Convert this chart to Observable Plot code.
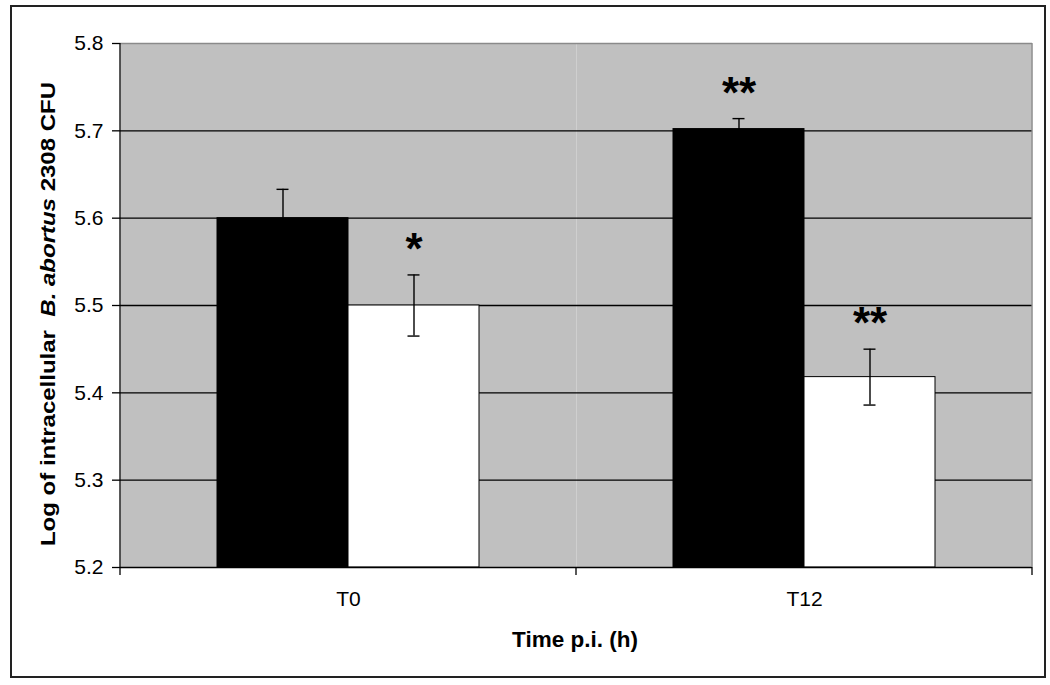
<!DOCTYPE html>
<html>
<head>
<meta charset="utf-8">
<script src="https://cdn.jsdelivr.net/npm/d3@7"></script>
<script src="https://cdn.jsdelivr.net/npm/@observablehq/plot@0.6"></script>
<style>
  html, body { margin: 0; padding: 0; background: #fff; }
  body { width: 1050px; height: 685px; position: relative; overflow: hidden; font-family: "Liberation Sans", Arial, sans-serif; }
  #border { position: absolute; left: 10px; top: 5px; width: 1036px; height: 673px; box-sizing: border-box; border: 2px solid #222; }
  #chart { position: absolute; left: 0; top: 0; }
  .ytitle { position: absolute; width: 600px; left: -252px; top: 301px; height: 26px; line-height: 26px; text-align: center;
            transform: rotate(-90deg) scaleY(0.82); transform-origin: 300px 13px; font-weight: bold; font-size: 24px; color: #000; white-space: pre; }
  .xtitle { position: absolute; width: 400px; left: 375px; top: 628px; height: 24px; line-height: 24px; text-align: center;
            font-weight: bold; font-size: 22.5px; color: #000; }
</style>
</head>
<body>
<div id="border"></div>
<div id="chart"></div>
<div class="ytitle">Log of intracellular  <i>B. abortus</i> 2308 CFU</div>
<div class="xtitle">Time p.i. (h)</div>
<script>
// ---- data ----
const times = ["T0", "T12"];
const series = ["Series 1", "Series 2"];
const timeCol   = ["T0", "T0", "T12", "T12"];
const seriesCol = ["Series 1", "Series 2", "Series 1", "Series 2"];
const meanCol   = [5.600, 5.500, 5.702, 5.418];
const errCol    = [0.033, 0.035, 0.012, 0.032];
const starCol   = ["", "*", "**", "**"];
const yDomain = [5.2, 5.8];
const yTicks = [5.2, 5.3, 5.4, 5.5, 5.6, 5.7, 5.8];
const gridTicks = [5.3, 5.4, 5.5, 5.6, 5.7];
const seriesColors = ["#000000", "#ffffff"];

const data = timeCol.map((t, i) => ({
  time: t, series: seriesCol[i], mean: meanCol[i], err: errCol[i], star: starCol[i]
}));
const fmt = d3.format(".1f");
const yLabelData = yTicks.map(v => ({ time: times[0], value: v }));

const plot = Plot.plot({
  width: 1050,
  height: 685,
  marginLeft: 120,
  marginRight: 18,
  marginTop: 43,
  marginBottom: 118,
  style: { fontFamily: "Liberation Sans, Arial, sans-serif", fontSize: "21px", color: "#000", background: "transparent" },
  fx: { domain: times, padding: 0, axis: null },
  x: { domain: series, axis: null, paddingInner: 0, paddingOuter: 0.74 },
  y: { domain: yDomain, axis: null },
  color: { domain: series, range: seriesColors },
  marks: [
    Plot.frame({ fill: "#c0c0c0", stroke: null }),
    Plot.ruleY([yDomain[1]], { stroke: "#8a8a8a", strokeWidth: 1.3 }),
    Plot.gridY(gridTicks, { stroke: "#000", strokeOpacity: 1, strokeWidth: 1.4 }),
    Plot.barY(data, { fx: "time", x: "series", y1: yDomain[0], y2: "mean", fill: "series", stroke: "#000", strokeWidth: 1 }),
    Plot.ruleX(data, { fx: "time", x: "series", y1: d => d.mean - d.err, y2: d => d.mean + d.err, stroke: "#000", strokeWidth: 1.4 }),
    Plot.tickY(data, { fx: "time", x: "series", y: d => d.mean + d.err, stroke: "#000", strokeWidth: 1.4, insetLeft: 59.5, insetRight: 59.5 }),
    Plot.tickY(data, { fx: "time", x: "series", y: d => d.mean - d.err, stroke: "#000", strokeWidth: 1.4, insetLeft: 59.5, insetRight: 59.5 }),
    Plot.text(data.filter(d => d.star), { fx: "time", x: "series", y: d => d.mean + d.err, text: "star", dy: -25, fontSize: 44, fontWeight: "bold", fill: "#000" }),
    Plot.ruleY([yDomain[0]], { stroke: "#000", strokeWidth: 1.5 }),
    Plot.axisY(yTicks, { tickFormat: () => "", tickSize: 8, tickPadding: 0, label: null, stroke: "#000", strokeWidth: 1.3 }),
    Plot.text(yLabelData, { fx: "time", y: "value", text: d => fmt(d.value), frameAnchor: "left", textAnchor: "end", dx: -17, fontSize: 21, fill: "#000" }),
    Plot.axisFx({ anchor: "bottom", tickSize: 0, tickPadding: 24, label: null, fontSize: 21, fill: "#000" })
  ]
});

// axis line, boundary ticks on the category axis and right plot edge, from the plot's own scales
const fxs = plot.scale("fx");
const ys = plot.scale("y");
const yBottom = ys.apply(yDomain[0]);
const yTop = ys.apply(yDomain[1]);
const edges = [fxs.apply(times[0]), fxs.apply(times[1]), fxs.apply(times[1]) + fxs.bandwidth];
const svg = d3.select(plot.tagName === "svg" ? plot : plot.querySelector("svg"));
svg.append("line")
  .attr("x1", edges[2]).attr("x2", edges[2]).attr("y1", yTop).attr("y2", yBottom)
  .attr("stroke", "#8a8a8a").attr("stroke-width", 1.3);
const g = svg.append("g").attr("stroke", "#000").attr("stroke-width", 1.3);
g.selectAll("line").data(edges).join("line")
  .attr("x1", d => d).attr("x2", d => d).attr("y1", yBottom).attr("y2", yBottom + 8);
g.append("line").attr("x1", edges[0]).attr("x2", edges[0]).attr("y1", yTop).attr("y2", yBottom);

document.getElementById("chart").appendChild(plot);
</script>
</body>
</html>
